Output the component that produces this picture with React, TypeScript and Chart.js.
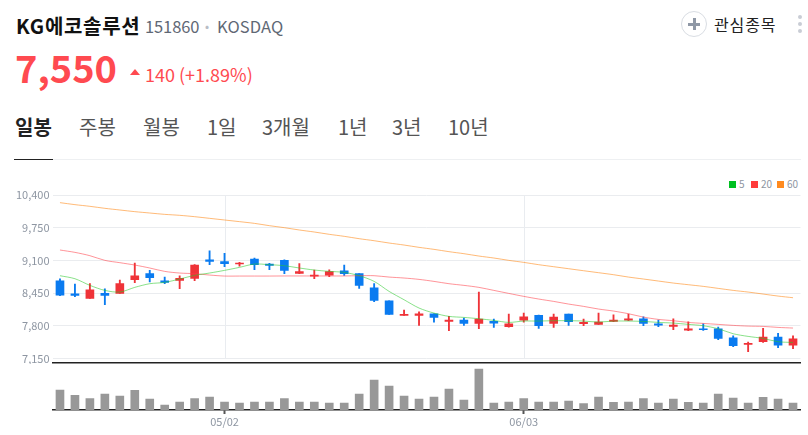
import React, { useEffect, useRef } from "react";
import { Chart, registerables } from "chart.js";

Chart.register(...registerables);

const dates = ["04/16","04/17","04/18","04/19","04/22","04/23","04/24","04/25","04/26","04/29","04/30","05/02","05/03","05/07","05/08","05/09","05/10","05/13","05/14","05/16","05/17","05/20","05/21","05/22","05/23","05/24","05/27","05/28","05/29","05/30","05/31","06/03","06/04","06/05","06/07","06/10","06/11","06/12","06/13","06/14","06/17","06/18","06/19","06/20","06/21","06/24","06/25","06/26","06/27","06/28"];
const labeledDates = ["05/02", "06/03"];
const priceTicks = [7150, 7800, 8450, 9100, 9750, 10400];

const opens = [8695,8437,8344,8443,8443,8715,8835,8695,8702,8742,9113,9074,9027,9127,9027,9100,8841,8788,8808,8894,8835,8556,8297,8006,8006,8039,7886,7913,7846,7886,7780,7913,8006,7846,8032,7840,7827,7886,7913,7939,7840,7787,7714,7740,7740,7561,7429,7482,7574,7415];
const closes = [8410,8404,8516,8404,8636,8795,8755,8662,8742,9007,9080,9034,9047,9014,8998,8901,8875,8808,8875,8835,8603,8304,8026,8026,8039,7966,7913,7846,7933,7853,7840,7979,7800,7972,7880,7866,7873,7913,7939,7846,7813,7813,7740,7720,7548,7402,7448,7574,7415,7541];
const highs = [8735,8629,8636,8536,8709,9047,8901,8768,8795,9014,9292,9239,9060,9147,9040,9113,9034,8908,8914,9007,8835,8636,8297,8112,8079,8039,7986,7953,8470,7933,8032,8052,8013,8032,8032,7933,8052,8019,8032,7979,7913,7939,7880,7840,7773,7601,7475,7747,7647,7601];
const lows = [8397,8377,8344,8218,8443,8656,8669,8636,8536,8695,9014,8974,8987,8914,8914,8835,8835,8735,8775,8802,8543,8278,8026,8006,7807,7873,7701,7807,7740,7767,7773,7873,7747,7767,7807,7800,7827,7880,7900,7800,7780,7720,7701,7707,7521,7382,7283,7468,7362,7342];

const ma5 = [8795,8735,8603,8503,8470,8563,8636,8662,8729,8802,8848,8901,8961,9027,9014,8994,8948,8908,8881,8861,8795,8682,8483,8317,8152,8052,7986,7966,7939,7906,7866,7893,7893,7900,7900,7893,7873,7893,7893,7886,7866,7853,7827,7800,7740,7641,7588,7548,7482,7468];
const ma20 = [9306,9259,9193,9100,9054,9007,8948,8881,8848,8835,8808,8788,8788,8788,8788,8790,8790,8790,8790,8790,8795,8795,8768,8749,8722,8682,8636,8603,8563,8503,8443,8384,8331,8284,8231,8185,8132,8092,8039,7972,7926,7900,7866,7846,7827,7807,7793,7787,7767,7754];
const ma60 = [10248,10208,10175,10135,10102,10069,10042,10015,9996,9969,9936,9903,9870,9836,9790,9750,9704,9664,9618,9578,9531,9491,9445,9405,9359,9319,9273,9233,9186,9147,9100,9060,9014,8974,8934,8894,8855,8815,8768,8729,8689,8649,8616,8583,8543,8503,8470,8430,8390,8357];

const volumes = [120000,88000,68000,96000,84000,118000,66000,30000,48000,68000,78000,48000,42000,48000,48000,68000,48000,48000,42000,42000,96000,180000,144000,84000,66000,78000,126000,60000,246000,42000,48000,68000,48000,48000,54000,38000,78000,46000,48000,68000,42000,66000,46000,42000,96000,72000,42000,76000,66000,42000];

const legendItems = [
  { label: "5", color: "#00c020", x: 729 },
  { label: "20", color: "#ff3b3b", x: 751 },
  { label: "60", color: "#ff8a1e", x: 777 },
];
const tabs = [
  { label: "일봉", x: 15, active: true },
  { label: "주봉", x: 79 },
  { label: "월봉", x: 143 },
  { label: "1일", x: 207 },
  { label: "3개월", x: 262 },
  { label: "1년", x: 338 },
  { label: "3년", x: 392 },
  { label: "10년", x: 448 },
];

const RED = "#ef3338";
const BLUE = "#0a7bf0";
const GRID = "#eaecef";
const TICK_TEXT = "#8e96a2";
const FONT = '"Noto Sans CJK KR", "Noto Sans", sans-serif';
const candleColor = (i: number) => (closes[i] >= opens[i] ? RED : BLUE);

const dateLines = {
  id: "dateLines",
  beforeDatasetsDraw(chart: any) {
    const { ctx, scales } = chart;
    ctx.save();
    ctx.strokeStyle = "#e9ecf0";
    ctx.lineWidth = 1;
    for (const d of labeledDates) {
      const x = Math.round(scales.x.getPixelForValue(dates.indexOf(d))) + 0.5;
      ctx.beginPath();
      ctx.moveTo(x, scales.y.top);
      ctx.lineTo(x, scales.y.getPixelForValue(priceTicks[0]));
      ctx.stroke();
    }
    ctx.restore();
  },
};

const fitYAxis = (s: any) => {
  s.width = 52.5;
  s.paddingTop = 0;
  s.paddingBottom = 0;
};

const maLine = (label: string, data: number[], color: string) => ({
  type: "line" as const,
  label,
  data,
  borderColor: color,
  borderWidth: 1,
  pointRadius: 0,
  tension: 0.3,
  order: 0,
});

export default function App() {
  const priceRef = useRef<HTMLCanvasElement>(null);
  const volumeRef = useRef<HTMLCanvasElement>(null);

  useEffect(() => {
    const price = new Chart(priceRef.current!, {
      type: "bar",
      data: {
        labels: dates,
        datasets: [
          maLine("5", ma5, "rgba(40,200,40,0.55)"),
          maLine("20", ma20, "rgba(255,60,70,0.55)"),
          maLine("60", ma60, "rgba(255,140,30,0.6)"),
          {
            label: "body",
            data: dates.map((_, i) => [opens[i], closes[i]]),
            backgroundColor: dates.map((_, i) => candleColor(i)),
            barThickness: 8,
            grouped: false,
            order: 1,
          } as any,
          {
            label: "wick",
            data: dates.map((_, i) => [lows[i], highs[i]]),
            backgroundColor: dates.map((_, i) => candleColor(i)),
            barThickness: 1.2,
            grouped: false,
            order: 2,
          } as any,
        ],
      },
      options: {
        responsive: false,
        animation: false,
        layout: { padding: { left: 0, right: 7.5, top: 25, bottom: 1 } },
        plugins: { legend: { display: false }, tooltip: { enabled: false } },
        scales: {
          x: {
            type: "category",
            offset: true,
            afterFit: (s: any) => { s.height = 0; },
            grid: { display: false, drawTicks: false },
            border: { display: true, color: "#222", width: 1.5 },
            ticks: { display: false },
          },
          y: {
            min: 7059,
            max: 10400,
            afterFit: fitYAxis,
            afterBuildTicks: (s: any) => { s.ticks = priceTicks.map((value) => ({ value })); },
            grid: { color: GRID, lineWidth: 1, drawTicks: false },
            border: { display: false },
            ticks: {
              autoSkip: false,
              padding: 3,
              color: TICK_TEXT,
              font: { family: FONT, size: 11 },
              callback: (v: any) => Number(v).toLocaleString("en-US"),
            },
          },
        },
      },
      plugins: [dateLines],
    } as any);

    const volume = new Chart(volumeRef.current!, {
      type: "bar",
      data: {
        labels: dates,
        datasets: [
          { label: "volume", data: volumes, backgroundColor: "#989898", barThickness: 8 },
        ],
      },
      options: {
        responsive: false,
        animation: false,
        layout: { padding: { left: 0, right: 7.5, top: 1, bottom: 4 } },
        plugins: { legend: { display: false }, tooltip: { enabled: false } },
        scales: {
          x: {
            type: "category",
            offset: true,
            afterFit: (s: any) => { s.height = 21; },
            grid: {
              offset: false,
              drawOnChartArea: false,
              tickLength: 4,
              tickWidth: 2,
              tickColor: (c: any) => (labeledDates.includes(dates[c.index]) ? "#555" : "rgba(0,0,0,0)"),
            },
            border: { display: true, color: "#222", width: 1.5 },
            ticks: {
              autoSkip: false,
              maxRotation: 0,
              padding: 1,
              color: TICK_TEXT,
              font: { family: FONT, size: 11 },
              callback: (_: any, i: number) => (labeledDates.includes(dates[i]) ? dates[i] : ""),
            },
          },
          y: {
            min: 0,
            max: 270000,
            afterFit: fitYAxis,
            grid: { display: false, drawTicks: false },
            border: { display: false },
            ticks: { display: false },
          },
        },
      },
    } as any);

    return () => {
      price.destroy();
      volume.destroy();
    };
  }, []);

  const abs = (left: number, top: number, extra: React.CSSProperties = {}): React.CSSProperties => ({
    position: "absolute",
    left,
    top,
    whiteSpace: "nowrap",
    ...extra,
  });

  return (
    <div style={{ position: "absolute", left: 0, top: 0, width: 808, height: 435, overflow: "hidden", background: "#fff", fontFamily: FONT }}>
      <div style={abs(16, 13, { fontSize: 20, fontWeight: 700, color: "#111", lineHeight: "26px", letterSpacing: 0.7 })}>KG에코솔루션</div>
      <div style={abs(145, 14, { fontSize: 16.5, color: "#5f6875", lineHeight: "24px", letterSpacing: -0.1 })}>151860</div>
      <div style={abs(205, 14, { fontSize: 12, color: "#b8bdc5", lineHeight: "24px" })}>•</div>
      <div style={abs(217, 14, { fontSize: 16.5, color: "#5f6875", lineHeight: "24px", letterSpacing: 0.1 })}>KOSDAQ</div>
      <div style={abs(15, 40, { fontSize: 38, fontWeight: 700, color: "#ff4a50", lineHeight: "54px" })}>7,550</div>
      <div style={abs(130, 68.5, { width: 0, height: 0, borderLeft: "5px solid transparent", borderRight: "5px solid transparent", borderBottom: "6px solid #ff4a50" })} />
      <div style={abs(145, 62, { fontSize: 18, color: "#ff4a50", lineHeight: "24px" })}>140 (+1.89%)</div>

      <div style={abs(681, 11, { width: 24, height: 24, borderRadius: "50%", border: "1px solid #d9dde3" })} />
      <div style={abs(688, 22.5, { width: 12, height: 3, background: "#8f98a6" })} />
      <div style={abs(692.5, 18, { width: 3, height: 12, background: "#8f98a6" })} />
      <div style={abs(714, 13, { fontSize: 16, color: "#222", lineHeight: "22px", letterSpacing: 0.9 })}>관심종목</div>
      {[17, 24, 31].map((y) => (
        <div key={y} style={abs(798, y - 2, { width: 4, height: 4, borderRadius: "50%", background: "#c9cdd5" })} />
      ))}

      {tabs.map((t) => (
        <div key={t.label} style={abs(t.x, 113, { fontSize: 20, lineHeight: "28px", fontWeight: t.active ? 700 : 400, color: t.active ? "#222" : "#555" })}>{t.label}</div>
      ))}
      <div style={abs(14, 159, { width: 787, height: 1, background: "#eef0f2" })} />
      <div style={abs(14, 159, { width: 39, height: 1, background: "#222" })} />

      {legendItems.map((l) => (
        <React.Fragment key={l.label}>
          <div style={abs(l.x, 181, { width: 7, height: 7, background: l.color })} />
          <div style={abs(l.x + 10, 177, { fontSize: 10, lineHeight: "14px", color: TICK_TEXT })}>{l.label}</div>
        </React.Fragment>
      ))}

      <canvas ref={priceRef} width={808} height={194} style={{ position: "absolute", left: 0, top: 170 }} />
      <canvas ref={volumeRef} width={808} height={71} style={{ position: "absolute", left: 0, top: 364 }} />
    </div>
  );
}
